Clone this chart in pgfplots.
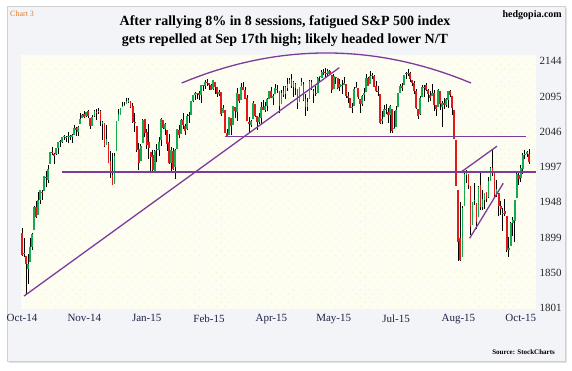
\documentclass[border=0pt]{standalone}
\usepackage{fontspec}
\setmainfont{Liberation Serif}
\usepackage{pgfplots}
\pgfplotsset{compat=1.18}
\usepackage{pgfplotstable}
\usetikzlibrary{patterns.meta}
\definecolor{cgreen}{RGB}{20,170,80}
\definecolor{cred}{RGB}{225,25,25}
\definecolor{lpurple}{RGB}{125,60,155}
\definecolor{framebg}{RGB}{243,244,247}
\definecolor{plotbg}{RGB}{253,253,242}
\definecolor{dotc}{RGB}{242,240,185}
\definecolor{navy}{RGB}{30,35,70}
\definecolor{chartorange}{RGB}{230,120,40}

\pgfplotstableread{
i o h l c
0 1905.65 1912.09 1874.14 1874.74
1 1877.11 1898.71 1871.79 1877.70
2 1874.18 1874.18 1820.66 1862.49
3 1855.95 1876.01 1835.02 1862.76
4 1864.91 1898.16 1864.91 1886.76
5 1885.62 1905.03 1882.30 1904.01
6 1909.38 1942.45 1909.38 1941.28
7 1941.29 1949.31 1926.83 1927.11
8 1931.02 1961.95 1931.02 1950.82
9 1951.59 1965.27 1946.27 1964.58
10 1962.97 1964.64 1951.37 1961.63
11 1964.14 1985.05 1964.14 1985.05
12 1983.29 1991.40 1969.04 1982.30
13 1979.49 1999.40 1974.75 1994.65
14 2001.20 2018.19 2001.20 2018.05
15 2018.21 2024.46 2013.68 2017.81
16 2015.81 2015.98 2001.01 2012.10
17 2015.29 2023.77 2014.42 2023.57
18 2023.33 2031.61 2015.86 2031.21
19 2032.36 2034.26 2025.07 2031.92
20 2032.01 2038.70 2030.17 2038.26
21 2038.20 2041.28 2035.28 2039.68
22 2037.75 2040.33 2031.95 2038.25
23 2039.21 2046.18 2030.44 2039.33
24 2039.74 2042.22 2035.20 2039.82
25 2038.29 2043.07 2030.20 2041.32
26 2041.48 2056.08 2041.48 2051.80
27 2051.16 2052.14 2040.37 2048.72
28 2045.87 2053.84 2040.49 2052.75
29 2057.46 2071.46 2056.75 2063.50
30 2065.07 2070.17 2065.07 2069.41
31 2070.15 2074.21 2064.75 2067.03
32 2067.36 2073.29 2066.62 2072.83
33 2074.78 2075.76 2065.06 2067.56
34 2065.78 2065.78 2049.57 2053.44
35 2053.77 2068.77 2053.77 2066.55
36 2067.45 2076.28 2066.65 2074.33
37 2073.64 2077.34 2062.34 2071.92
38 2072.78 2079.47 2070.81 2075.37
39 2074.84 2075.78 2054.27 2060.31
40 2056.55 2060.60 2034.17 2059.82
41 2058.86 2058.86 2024.26 2026.14
42 2027.92 2055.53 2027.92 2035.33
43 2030.36 2032.25 2002.33 2002.33
44 2005.03 2018.69 1982.26 1989.63
45 1986.71 2016.89 1972.56 1972.74
46 1973.77 2016.75 1973.77 2012.89
47 2018.98 2061.23 2018.98 2061.23
48 2061.04 2077.85 2061.03 2070.65
49 2069.28 2078.76 2069.28 2078.54
50 2081.48 2086.73 2079.77 2082.17
51 2083.25 2087.56 2081.86 2081.88
52 2084.30 2092.70 2084.30 2088.77
53 2087.63 2093.55 2085.75 2090.57
54 2088.49 2088.49 2079.53 2080.35
55 2082.11 2085.58 2057.94 2058.90
56 2058.90 2072.36 2046.04 2058.20
57 2054.44 2054.44 2017.34 2020.58
58 2022.15 2030.25 1992.44 2002.61
59 2005.55 2029.61 2005.55 2025.90
60 2030.61 2064.08 2030.61 2062.14
61 2063.45 2064.43 2038.33 2044.81
62 2046.13 2049.30 2022.58 2028.26
63 2031.58 2056.93 2008.25 2023.03
64 2018.40 2018.40 1988.44 2011.27
65 2013.75 2021.35 1991.47 1992.67
66 1992.25 2020.46 1988.12 2019.42
67 2020.76 2028.94 2004.49 2022.55
68 2020.19 2038.29 2012.04 2032.12
69 2034.30 2064.62 2026.38 2063.15
70 2062.98 2062.98 2050.54 2051.82
71 2050.42 2057.62 2040.97 2057.09
72 2047.86 2047.86 2019.91 2029.55
73 2032.34 2042.49 2001.49 2002.16
74 2002.45 2024.64 1989.18 2021.25
75 2019.35 2023.32 1993.38 1994.99
76 1996.67 2021.66 1980.90 2020.85
77 2022.71 2050.30 2022.71 2050.03
78 2048.86 2054.74 2036.72 2041.51
79 2043.45 2063.55 2043.45 2062.52
80 2062.28 2072.40 2049.97 2055.47
81 2053.47 2056.16 2041.88 2046.74
82 2049.38 2070.86 2048.62 2068.59
83 2068.55 2073.48 2057.99 2068.53
84 2069.98 2088.53 2069.98 2088.48
85 2088.78 2097.03 2086.70 2096.99
86 2096.47 2101.30 2089.80 2100.34
87 2099.16 2100.23 2092.15 2099.68
88 2099.25 2102.13 2090.79 2097.45
89 2097.65 2110.61 2085.44 2110.30
90 2109.83 2110.05 2103.00 2109.66
91 2109.10 2117.94 2105.87 2115.48
92 2115.30 2119.59 2109.89 2113.86
93 2113.91 2113.91 2103.76 2110.74
94 2110.88 2112.74 2103.75 2104.50
95 2105.23 2117.52 2104.50 2117.39
96 2115.76 2115.76 2098.26 2107.78
97 2107.72 2107.72 2094.49 2098.53
98 2098.54 2104.25 2095.22 2101.04
99 2100.91 2100.91 2067.27 2071.26
100 2072.25 2083.49 2072.21 2079.43
101 2076.14 2076.14 2044.16 2044.16
102 2044.69 2050.08 2039.69 2040.24
103 2041.10 2066.41 2041.10 2065.95
104 2064.56 2064.56 2041.17 2053.40
105 2055.35 2081.41 2055.35 2081.19
106 2080.59 2080.59 2065.08 2074.28
107 2072.84 2106.85 2061.23 2099.50
108 2098.69 2098.69 2085.56 2089.27
109 2090.32 2113.92 2090.32 2108.10
110 2107.99 2114.86 2104.42 2104.42
111 2103.94 2107.63 2091.50 2091.50
112 2093.10 2097.43 2061.05 2061.05
113 2059.94 2067.15 2045.50 2056.15
114 2055.78 2062.83 2052.96 2061.02
115 2064.11 2088.97 2064.11 2086.24
116 2084.05 2084.05 2067.04 2067.89
117 2067.63 2067.63 2048.38 2059.69
118 2060.03 2072.17 2057.32 2066.96
119 2064.87 2086.99 2056.52 2080.62
120 2080.79 2089.81 2076.10 2076.33
121 2076.94 2086.69 2073.30 2081.90
122 2081.29 2093.31 2074.29 2091.18
123 2091.51 2102.61 2091.51 2102.06
124 2102.03 2107.65 2092.33 2092.43
125 2092.28 2098.62 2083.24 2095.84
126 2097.82 2111.91 2097.82 2106.63
127 2105.96 2111.30 2100.02 2104.99
128 2102.58 2102.58 2072.37 2081.18
129 2084.11 2103.94 2084.11 2100.40
130 2102.82 2109.64 2094.38 2097.29
131 2098.27 2109.98 2091.05 2107.96
132 2107.21 2120.49 2103.19 2112.93
133 2112.80 2120.92 2112.80 2117.69
134 2119.29 2125.92 2107.04 2108.92
135 2108.35 2116.04 2094.89 2114.76
136 2112.49 2113.65 2097.41 2106.85
137 2105.52 2105.52 2077.59 2085.51
138 2087.38 2108.41 2087.38 2108.29
139 2110.23 2120.95 2110.23 2114.49
140 2112.63 2115.24 2088.46 2089.46
141 2091.26 2098.42 2067.93 2080.15
142 2079.96 2092.90 2074.99 2088.00
143 2092.13 2117.66 2092.13 2116.10
144 2115.56 2117.69 2104.58 2105.33
145 2102.87 2105.06 2085.57 2099.12
146 2099.62 2110.19 2096.04 2098.48
147 2100.43 2121.45 2100.43 2121.10
148 2122.07 2123.89 2116.81 2122.73
149 2121.30 2131.78 2120.01 2129.20
150 2129.45 2133.02 2124.50 2127.83
151 2127.79 2134.72 2122.59 2125.85
152 2125.55 2133.63 2123.89 2130.82
153 2130.36 2132.15 2126.06 2126.06
154 2125.34 2125.34 2099.18 2104.20
155 2105.13 2126.22 2105.13 2123.48
156 2122.27 2122.27 2112.86 2120.79
157 2120.66 2120.66 2104.89 2107.39
158 2108.64 2119.15 2102.54 2111.73
159 2110.41 2117.59 2099.14 2109.60
160 2110.64 2121.92 2110.64 2114.07
161 2112.35 2112.89 2093.23 2095.84
162 2095.09 2100.99 2085.67 2092.83
163 2092.34 2093.01 2079.11 2079.28
164 2079.07 2085.62 2072.14 2080.15
165 2081.12 2108.50 2081.12 2105.20
166 2106.24 2115.02 2106.24 2108.86
167 2107.43 2107.43 2091.33 2094.11
168 2091.34 2091.34 2072.49 2084.43
169 2084.26 2097.40 2082.10 2096.29
170 2097.40 2106.79 2088.86 2100.44
171 2101.58 2126.65 2101.58 2121.24
172 2121.06 2121.64 2109.45 2109.99
173 2112.50 2129.87 2112.50 2122.85
174 2123.16 2128.03 2119.89 2124.20
175 2123.65 2125.10 2108.58 2108.58
176 2109.96 2116.04 2101.78 2102.31
177 2102.62 2108.92 2095.38 2101.49
178 2098.63 2098.63 2056.64 2057.64
179 2061.19 2074.28 2056.32 2063.11
180 2067.00 2082.78 2067.00 2077.42
181 2078.03 2085.06 2071.02 2076.78
182 2073.95 2078.61 2058.40 2068.76
183 2069.52 2083.74 2044.02 2081.34
184 2077.66 2077.66 2044.66 2046.68
185 2049.73 2074.28 2049.73 2051.31
186 2052.74 2081.31 2052.74 2076.62
187 2080.03 2099.88 2080.03 2099.60
188 2099.72 2111.98 2099.72 2108.95
189 2109.22 2114.14 2102.49 2107.40
190 2110.55 2124.42 2110.55 2124.29
191 2126.80 2128.91 2119.88 2126.64
192 2126.85 2132.82 2123.66 2128.28
193 2127.55 2128.49 2115.40 2119.21
194 2118.21 2118.51 2110.00 2114.15
195 2114.16 2116.87 2098.63 2102.15
196 2102.24 2106.01 2077.09 2079.65
197 2078.19 2078.19 2063.52 2067.64
198 2070.75 2095.60 2069.09 2093.25
199 2094.70 2110.60 2094.08 2108.57
200 2106.78 2110.48 2094.97 2108.63
201 2111.60 2114.24 2102.07 2103.84
202 2104.49 2105.70 2087.31 2098.04
203 2097.68 2102.51 2088.60 2093.32
204 2095.27 2112.66 2095.27 2099.84
205 2100.13 2103.32 2075.53 2083.56
206 2082.61 2082.61 2067.91 2077.57
207 2080.98 2105.35 2080.98 2104.18
208 2102.66 2102.66 2076.49 2084.07
209 2081.10 2089.06 2052.09 2086.05
210 2086.19 2092.93 2078.26 2083.39
211 2083.15 2092.45 2080.61 2091.54
212 2089.70 2102.87 2079.30 2102.44
213 2101.99 2103.47 2094.14 2096.92
214 2095.69 2095.69 2069.09 2079.61
215 2076.61 2076.61 2035.73 2035.73
216 2034.08 2034.08 1970.89 1970.89
217 1965.15 1965.15 1867.01 1893.21
218 1898.08 1948.04 1867.08 1867.61
219 1872.75 1943.09 1872.75 1940.51
220 1942.77 1989.60 1942.77 1987.66
221 1986.06 1993.48 1975.19 1988.87
222 1986.73 1986.73 1965.98 1972.18
223 1970.09 1970.09 1903.07 1913.85
224 1916.52 1948.91 1916.52 1948.86
225 1950.79 1975.01 1944.72 1951.13
226 1947.76 1947.76 1911.21 1921.22
227 1927.30 1970.42 1927.30 1969.41
228 1971.45 1988.63 1937.88 1942.04
229 1941.59 1965.29 1937.19 1952.29
230 1951.45 1961.05 1939.19 1961.05
231 1963.06 1963.06 1948.27 1953.03
232 1955.10 1983.19 1954.30 1978.09
233 1978.02 1997.26 1977.93 1995.31
234 1995.33 2020.86 1984.75 1990.20
235 1989.66 1989.66 1953.45 1958.03
236 1960.84 1979.64 1955.80 1966.97
237 1961.39 1961.39 1929.22 1942.74
238 1943.24 1949.52 1930.69 1938.76
239 1932.24 1939.88 1908.77 1932.24
240 1935.93 1952.89 1928.95 1931.34
241 1929.18 1929.18 1879.21 1881.77
242 1881.90 1899.48 1871.91 1884.09
243 1887.14 1920.53 1887.14 1920.03
244 1919.65 1927.21 1900.70 1923.82
245 1921.77 1951.36 1893.70 1951.36
246 1954.33 1989.17 1954.33 1987.05
247 1986.63 1991.62 1971.99 1979.92
248 1982.34 1999.31 1976.44 1995.83
249 1994.01 2016.50 1987.53 2013.43
250 2013.73 2020.13 2007.61 2014.89
251 2015.65 2018.66 2010.55 2017.46
252 2015.00 2022.34 2001.78 2003.69
}\spx

\begin{document}
\begin{tikzpicture}
\path[fill=white] (0pt,0pt) rectangle (572pt,370pt);
\fill[black!12] (9pt,7pt) rectangle (566.5pt,362pt);
\draw[black!18, fill=framebg] (7.5pt,8.5pt) rectangle (565pt,363.5pt);
\node[anchor=west, text=chartorange, font=\fontsize{8}{9}\selectfont, inner sep=0pt] at (10pt,356pt) {Chart 3};
\node[anchor=east, font=\fontsize{10}{12}\selectfont\bfseries, inner sep=0pt] at (562pt,355pt) {hedgopia.com};
\node[align=center, font=\fontsize{14}{18}\selectfont\bfseries, inner sep=0pt] at (285pt,339pt) {After rallying 8\% in 8 sessions, fatigued S\&P 500 index\\gets repelled at Sep 17th high; likely headed lower N/T};
\node[anchor=east, font=\fontsize{7}{8}\selectfont\bfseries, inner sep=0pt] at (555pt,18pt) {Source: StockCharts};
\begin{axis}[
  at={(20.7pt,61pt)}, anchor=south west,
  scale only axis, width=515.3pt, height=254pt,
  xmin=-0.65, xmax=255.6, ymin=1800, ymax=2152.6,
  clip=false,
  axis line style={draw=none},
  major tick length=0pt,
  axis background/.style={fill=plotbg, postaction={pattern={Dots[angle=45,distance=6pt,radius=0.55pt]}, pattern color=dotc}},
  xtick={0,31,62,93,124,155,186,217,248},
  xticklabels={Oct-14,Nov-14,Jan-15,Feb-15,Apr-15,May-15,Jul-15,Aug-15,Oct-15},
  xticklabel style={font=\fontsize{11}{12}\selectfont, text=navy, yshift=-2pt},
  ytick={1801,1850,1899,1948,1997,2046,2095,2144},
  yticklabels={1801,1850,1899,1948,1997,2046,2095,2144},
  yticklabel pos=right,
  yticklabel style={font=\fontsize{11}{12}\selectfont, text=black!85},
]
\addplot[draw=none, mark=none, forget plot,
  error bars/.cd, y dir=plus, y explicit, error mark=none,
  error bar style={draw=black, line width=0.5pt}]
  table[x=i, y=l, y error expr=\thisrow{h}-\thisrow{l}] {\spx};
\addplot[draw=none, mark=none, forget plot,
  restrict expr to domain={\thisrow{c}-\thisrow{o}}{0:1000},
  error bars/.cd, y dir=plus, y explicit, error mark=none,
  error bar style={draw=cgreen, line width=1.8pt}]
  table[x=i, y=o, y error expr={max(\thisrow{c}-\thisrow{o},0.8)}] {\spx};
\addplot[draw=none, mark=none, forget plot,
  restrict expr to domain={\thisrow{o}-\thisrow{c}}{0.001:1000},
  error bars/.cd, y dir=plus, y explicit, error mark=none,
  error bar style={draw=cred, line width=1.8pt}]
  table[x=i, y=c, y error expr={max(\thisrow{o}-\thisrow{c},0.8)}] {\spx};

\addplot[lpurple, line width=1.7pt, mark=none, forget plot] coordinates {(19.8,1990.6) (255.4,1990.6)};
\draw[lpurple, line width=1.3pt] (axis cs:1,1818) -- (axis cs:157.8,2135);
\draw[lpurple, line width=1.3pt] (axis cs:100.7,2039.2) -- (axis cs:250.4,2039.2);
\draw[lpurple, line width=1.3pt] (axis cs:218.3,1990) -- (axis cs:236.2,2026);
\draw[lpurple, line width=1.3pt] (axis cs:222.6,1898.2) -- (axis cs:239.3,1974.5);
\draw[lpurple, line width=1.3pt] (axis cs:79.4,2113.7) .. controls (axis cs:127.4,2169.3) and (axis cs:175.3,2169.3) .. (axis cs:223.3,2113.7);
\end{axis}
\end{tikzpicture}
\end{document}
